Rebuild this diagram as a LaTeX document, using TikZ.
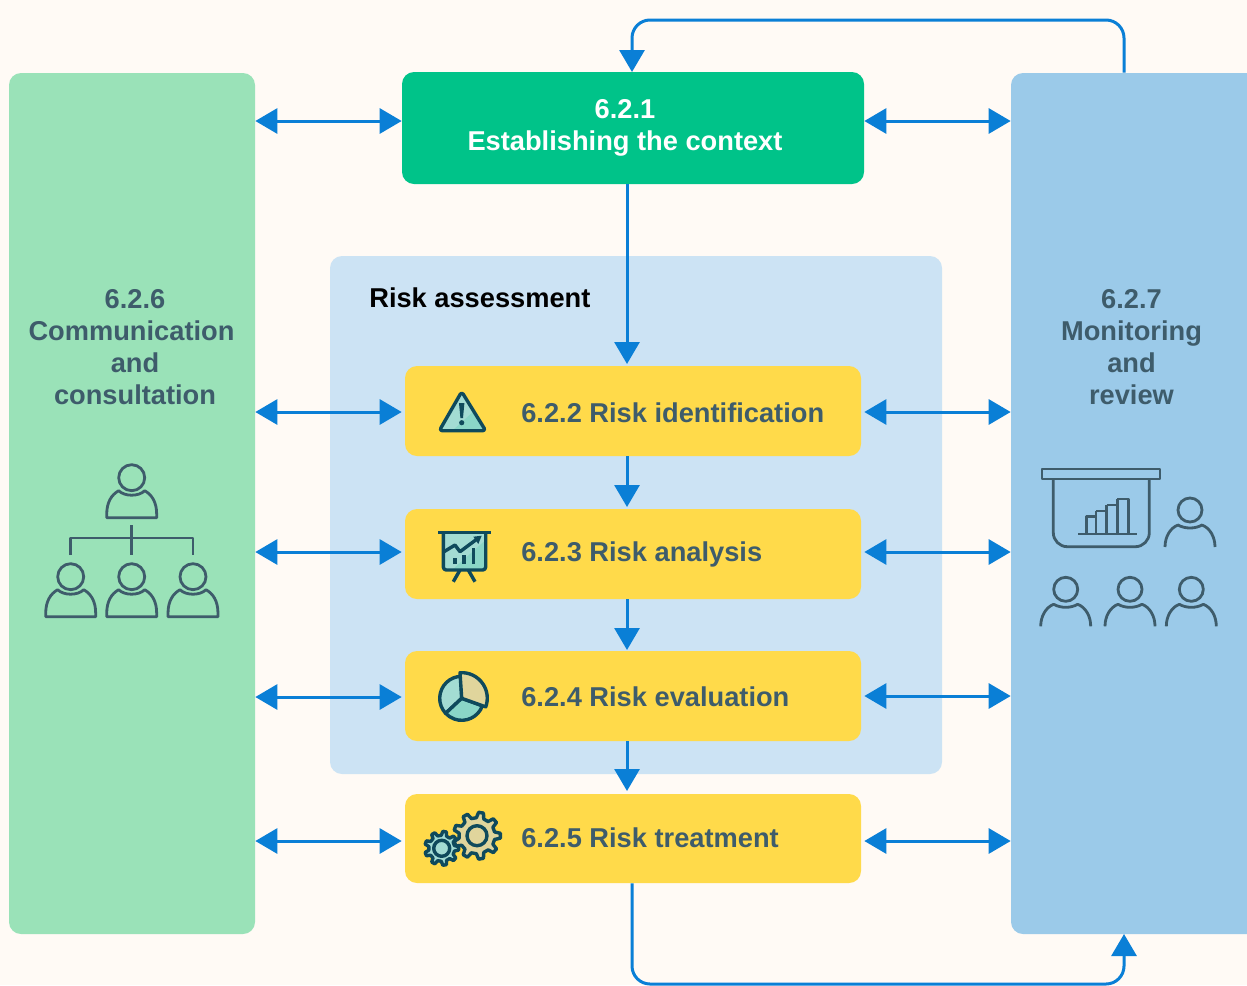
\documentclass[tikz,border=0pt]{standalone}
\usepackage{fontspec}
\setmainfont{Liberation Sans}
\usetikzlibrary{arrows.meta}
\definecolor{paper}{HTML}{FFFAF5}
\definecolor{commgreen}{HTML}{9AE2B8}
\definecolor{contextgreen}{HTML}{00C389}
\definecolor{monitorblue}{HTML}{9BCAE9}
\definecolor{riskblue}{HTML}{CCE3F4}
\definecolor{boxyellow}{HTML}{FFDA4A}
\definecolor{flowblue}{HTML}{0A7FD6}
\definecolor{slate}{HTML}{3E5C6B}
\definecolor{icondark}{HTML}{0F4A5C}
\definecolor{iconteal}{HTML}{A3DCD3}
\definecolor{iconsea}{HTML}{8AD6C7}
\definecolor{iconsand}{HTML}{E0D59C}
\def\u{0.6pt}
\tikzset{
    panel/.style={rectangle, rounded corners=12*\u, inner sep=0pt},
    riskbox/.style={panel, fill=boxyellow, minimum width=456*\u},
    boxlabel/.style={anchor=base west, inner sep=0pt, text=slate, font=\fontsize{16.35}{19.2}\selectfont\bfseries},
    paneltext/.style={align=center, inner sep=0pt, text=slate, font=\fontsize{16.35}{19.2}\selectfont\bfseries},
    flow/.style={flowblue, line width=3*\u, -{Triangle[length=22*\u, width=25*\u]}},
    both/.style={flow, {Triangle[length=22*\u, width=25*\u]}-{Triangle[length=22*\u, width=25*\u]}},
    iconline/.style={icondark, line width=3.4*\u, line join=round},
    thinline/.style={slate, line width=2.8*\u, line join=round},
    person/.pic={
        \draw[thinline] (0,0) circle[radius=13];
        \draw[thinline] (-13,13) .. controls (-7,19) and (7,19) .. (13,13) .. controls (20,17) and (25,24) .. (25,37) -- (25,40) -- (-25,40) -- (-25,37) .. controls (-25,24) and (-20,17) .. (-13,13) -- cycle;
    },
    viewer/.pic={
        \draw[thinline] (0,0) circle[radius=12];
        \draw[thinline] (-25,37) .. controls (-25,27) and (-20,18) .. (-12,15) .. controls (-5,19) and (5,19) .. (12,15) .. controls (20,18) and (25,27) .. (25,37);
    }
}
\newcommand{\gearicon}[5]{
    \draw[iconline, fill=#5, shift={#1}] (-12:#3) \foreach \a in {0,40,...,320}{ -- ({\a-12}:#3) -- ({\a-6}:#2) -- ({\a+6}:#2) -- ({\a+12}:#3)} -- cycle;
    \draw[iconline, shift={#1}] (0,0) circle[radius=#4];
}
\begin{document}
\begin{tikzpicture}[x=\u, y=-\u]
        \useasboundingbox (0,0) rectangle (1247,985);
        \clip (0,0) rectangle (1247,985);
        \fill[paper] (0,0) rectangle (1247,985);

        \node[panel, fill=commgreen, minimum width=246*\u, minimum height=861*\u] (comm) at (132,503.5) {};
        \node[panel, fill=monitorblue, minimum width=270*\u, minimum height=861*\u] (monitor) at (1146,503.5) {};
        \node[panel, fill=riskblue, minimum width=612*\u, minimum height=518*\u] (risk) at (636,515) {};
        \node[panel, fill=contextgreen, minimum width=462*\u, minimum height=112*\u] (context) at (633,128) {};
        \node[riskbox, minimum height=90*\u] (identify) at (633,411) {};
        \node[riskbox, minimum height=90*\u] (analysis) at (633,554) {};
        \node[riskbox, minimum height=90*\u] (evaluation) at (633,696) {};
        \node[riskbox, minimum height=89*\u] (treatment) at (633,838.5) {};

        \node[paneltext, text=white] (contexttext) at (625,128) {6.2.1\\Establishing the context};
        \node[boxlabel] (identifytext) at (521,422) {6.2.2 Risk identification};
        \node[boxlabel] (analysistext) at (521,561) {6.2.3 Risk analysis};
        \node[boxlabel] (evaluationtext) at (521,706) {6.2.4 Risk evaluation};
        \node[boxlabel] (treatmenttext) at (521,847) {6.2.5 Risk treatment};
        \node[boxlabel, text=black] (risktext) at (369,307) {Risk assessment};
        \node[paneltext] (commtext) at (135,347) {6.2.6\\\mbox{Communication\hspace{4.2pt}}\\and\\consultation};
        \node[paneltext] (monitortext) at (1131.5,347) {6.2.7\\Monitoring\\and\\review};

        \draw[flow] (context.south -| 627,0) -- (627,364);
        \draw[flow] (identify.south -| 627,0) -- (627,507);
        \draw[flow] (analysis.south -| 627,0) -- (627,650);
        \draw[flow] (evaluation.south -| 627,0) -- (627,791);
        \draw[flow, rounded corners=18*\u] (monitor.north -| 1124,0) -- (1124,20) -- (632,20) -- (632,72);
        \draw[flow, rounded corners=18*\u] (treatment.south -| 632,0) -- (632,984) -- (1124,984) -- (1124,934);

        \foreach \y/\z in {121/121,412/412,552/552,697/696,841/841}{
            \draw[both] (comm.east |- 0,\y) -- (context.west |- 0,\y);
            \draw[both] (context.east |- 0,\z) -- (monitor.west |- 0,\z);
        }

        \fill[iconteal, rounded corners=3*\u] (461.7,391.7) -- (485.7,430.7) -- (439.3,430.7) -- cycle;
        \fill[iconsea] (453,430) -- (474,411) -- (484,430) -- cycle;
        \draw[iconline, rounded corners=3*\u] (461.7,391.7) -- (485.7,430.7) -- (439.3,430.7) -- cycle;
        \fill[icondark] (459,403) -- (464.4,403) -- (463,418) -- (460.4,418) -- cycle;
        \fill[icondark] (461.7,422.7) circle[radius=2.6];

        \fill[iconteal, rounded corners=3*\u] (443.3,532.3) -- (443.3,570) -- (485.7,570) -- (485.7,532.3);
        \fill[iconsea] (452,570) -- (485.7,540) -- (485.7,570) -- cycle;
        \draw[iconline, rounded corners=3*\u] (443.3,532.3) -- (443.3,570) -- (485.7,570) -- (485.7,532.3);
        \draw[iconline] (438.3,532.3) -- (490.7,532.3);
        \draw[iconline] (444,551.7) -- (455,545) -- (460,551.7) -- (477,539);
        \fill[icondark] (473.3,536.7) -- (481.7,535.7) -- (478.3,544) -- cycle;
        \draw[iconline] (455,558.3) -- (455,564);
        \draw[iconline] (464,555) -- (464,564);
        \draw[iconline] (473.7,548.3) -- (473.7,564);
        \draw[iconline] (460,570) -- (453.3,581.7);
        \draw[iconline] (468.3,570) -- (475,581.7);

        \draw[iconline, fill=iconteal] (461.7,698.3) -- ++(137:22) arc (137:268:22) -- cycle;
        \draw[iconline, fill=iconsea] (461.7,698.3) -- ++(20:22) arc (20:137:22) -- cycle;
        \draw[iconline, fill=iconsand] (461.7,698.3) -- (460,672.7) arc (-94:20:25.5) -- cycle;

        \gearicon{(477,835.7)}{23.5}{18}{10}{iconsand}
        \gearicon{(441.7,848.3)}{17}{13}{8}{iconteal}

        \pic at (131.7,477.7) {person};
        \pic at (70.7,576.7) {person};
        \pic at (131.7,576.7) {person};
        \pic at (193,576.7) {person};
        \draw[thinline] (131.7,525) -- (131.7,555);
        \draw[thinline] (70.7,555) -- (70.7,538) -- (193,538) -- (193,555);

        \draw[thinline] (1042,469) rectangle (1160,479);
        \draw[thinline, rounded corners=14*\u] (1053.3,479) -- (1053.3,546.7) -- (1149.3,546.7) -- (1149.3,479);
        \draw[thinline] (1078,534) -- (1137,534);
        \draw[thinline] (1086.7,534) -- (1086.7,516.7) -- (1096,516.7) -- (1096,534);
        \draw[thinline] (1096,511) -- (1106.7,511) -- (1106.7,534);
        \draw[thinline] (1106.7,505) -- (1117.3,505) -- (1117.3,534);
        \draw[thinline] (1117.3,499) -- (1128.3,499) -- (1128.3,534);
        \draw[thinline] (1096,516.7) -- (1096,511);
        \draw[thinline] (1106.7,511) -- (1106.7,505);
        \draw[thinline] (1117.3,505) -- (1117.3,499);

        \pic at (1190,510) {viewer};
        \pic at (1065.7,589.3) {viewer};
        \pic at (1130,589.3) {viewer};
        \pic at (1191.3,589.3) {viewer};
\end{tikzpicture}
\end{document}
